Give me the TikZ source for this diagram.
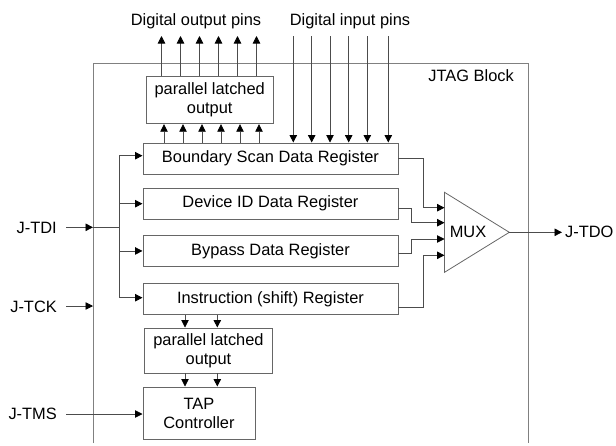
\documentclass[tikz,border=0pt]{standalone}
\usepackage{fontspec}
\setmainfont{Liberation Sans}
\usetikzlibrary{arrows.meta}
\begin{document}
\begin{tikzpicture}[x=1pt,y=-1pt,
  every node/.style={inner sep=0pt, font=\fontsize{16.4pt}{19pt}\selectfont},
  regbox/.style={draw=black!60, line width=0.9pt, rectangle, anchor=north west, align=center},
  wire/.style={draw=black!70, line width=0.8pt},
  conn/.style={wire, -{Triangle[length=7.5pt,width=7.5pt,color=black]}},
  blockline/.style={draw=black!50, line width=0.9pt},
  lbl/.style={text=black}]
\useasboundingbox (0,0) rectangle (616,445);

% JTAG block outline
\coordinate (blkBL) at (93,443);
\coordinate (blkTL) at (93,63);
\coordinate (blkTR) at (528,63);
\coordinate (blkBR) at (528,443);
\draw[blockline] (blkBL) -- (blkTL) -- (blkTR) -- (blkBR);
\node[lbl, anchor=east] (blktitle) at (514,76) {JTAG Block};

% boxes
\node[regbox, minimum width=126.5pt, minimum height=47.3pt] (toplatch) at (146,76) {parallel latched\\output};
\node[regbox, minimum width=255pt, minimum height=31pt] (bsdr) at (142.5,142.5) {Boundary Scan Data Register};
\node[regbox, minimum width=255pt, minimum height=31.5pt] (devid) at (142.5,187.5) {Device ID Data Register};
\node[regbox, minimum width=255pt, minimum height=31pt] (bypass) at (142.5,235) {Bypass Data Register};
\node[regbox, minimum width=255pt, minimum height=31pt] (instr) at (142.5,283) {Instruction (shift) Register};
\node[regbox, minimum width=127.4pt, minimum height=45pt] (botlatch) at (144.3,327.5) {parallel latched\\output};
\node[regbox, minimum width=112pt, minimum height=52pt] (tap) at (142.5,386.5) {TAP\\Controller};

% MUX
\coordinate (muxTL) at (444.5,192.3);
\coordinate (muxBL) at (444.5,272.3);
\coordinate (muxtip) at (509.3,232.3);
\draw[draw=black!60, line width=0.8pt] (muxTL) -- (muxtip) -- (muxBL) -- cycle;
\node[lbl] (muxlbl) at (468,232.3) {MUX};
\coordinate (m1) at (444.5,207.7);
\coordinate (m2) at (444.5,222.7);
\coordinate (m3) at (444.5,239);
\coordinate (m4) at (444.5,255.3);

% top labels
\node[lbl] (outpins) at (196,21.7) {Digital output pins};
\node[lbl] (inpins) at (350,21.7) {Digital input pins};

% digital output pins
\foreach \i in {0,...,5} {
  \draw[conn] ([xshift={15.5pt+19pt*\i}]toplatch.north west) coordinate (op\i) -- ++(0,-40);
  \draw[conn] ([xshift={21.5pt+19pt*\i}]bsdr.north west) coordinate (bp\i) -- (bp\i |- toplatch.south);
}

% digital input pins
\foreach \x [count=\i] in {293.3,311.7,330,348.7,367.3,388.3} {
  \coordinate (ip\i) at (\x,36);
  \draw[conn] (ip\i) -- (ip\i |- bsdr.north);
}

% left inputs
\node[lbl, anchor=east] (tdilbl) at (57,228) {J-TDI};
\node[lbl, anchor=east] (tcklbl) at (57,307) {J-TCK};
\node[lbl, anchor=east] (tmslbl) at (57,414) {J-TMS};
\coordinate (tdi) at (66,227.3);
\coordinate (tck) at (66,306);
\coordinate (tms) at (66,414);
\coordinate (busTop) at (119.3,155.7);
\coordinate (busBot) at (119.3,297.7);
\draw[conn] (tdi) -- (tdi -| blkTL);
\draw[wire] (tdi -| blkTL) -- (tdi -| busTop);
\draw[wire] (busTop) -- (busBot);
\draw[conn] (busTop) -- (busTop -| bsdr.west);
\draw[conn] (devid.west -| busTop) -- (devid.west);
\draw[conn] (bypass.west -| busTop) -- (bypass.west);
\draw[conn] (busBot) -- (busBot -| instr.west);
\draw[conn] (tck) -- (tck -| blkTL);
\draw[conn] (tms) -- (tms -| tap.west);

% instruction -> latch -> TAP
\foreach \x [count=\i] in {185,217.3} {
  \coordinate (ia\i) at (\x,314);
  \draw[conn] (ia\i |- instr.south) -- (ia\i |- botlatch.north);
  \draw[conn] (ia\i |- botlatch.south) -- (ia\i |- tap.north);
}

% registers -> MUX
\draw[conn] (bsdr.east) -| (423.5,207.7) -- (m1);
\draw[conn] ([yshift=-5pt]devid.east) -| (411.5,222.7) -- (m2);
\draw[conn] ([yshift=-2.8pt]bypass.east) -| (411.5,239) -- (m3);
\draw[conn] ([yshift=-8.2pt]instr.east) -| (423.5,255.3) -- (m4);

% output
\coordinate (tdo) at (562,232.3);
\draw[conn] (muxtip) -- (tdo);
\node[lbl, anchor=west] (tdolbl) at (565,232.3) {J-TDO};
\end{tikzpicture}
\end{document}
